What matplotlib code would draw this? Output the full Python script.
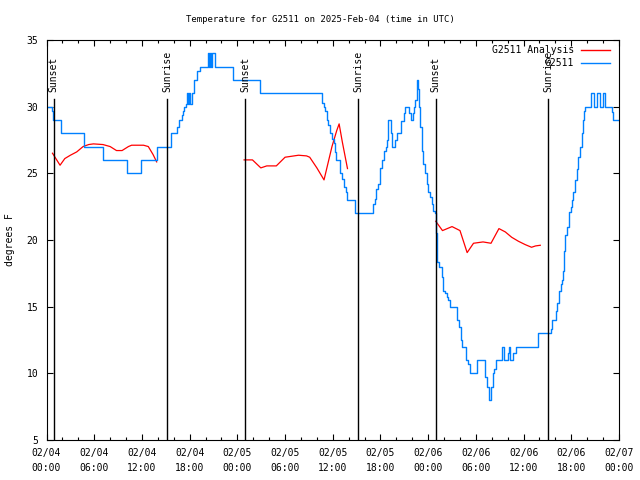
import numpy as np
import pandas as pd
import matplotlib
matplotlib.use("Agg")
import matplotlib.pyplot as plt
import matplotlib.dates as mdates
import matplotlib.transforms as mtransforms

plt.rcParams['font.family'] = ['DejaVu Sans Mono']
plt.rcParams['font.size'] = 7

START = pd.Timestamp("2025-02-04 00:00")
END = pd.Timestamp("2025-02-07 00:00")

# Observations (hours after start, deg F) - stepped
obs_hours = [
    0.0, 0.73, 0.86, 1.85, 4.65, 7.15, 10.1, 11.9, 13.87, 15.66,
    16.4, 16.7, 17.03, 17.2, 17.33, 17.5, 17.65, 17.8, 17.95, 18.1,
    18.25, 18.6, 18.9, 19.35, 20.25, 20.4, 20.5, 20.65, 20.85, 21.2,
    23.5, 26.8, 34.7, 34.85, 35.05, 35.25, 35.45, 35.65, 35.9, 36.1,
    36.25, 36.4, 36.9, 37.1, 37.4, 37.7, 37.85, 38.8, 41.1, 41.3,
    41.5, 41.7, 41.9, 42.0, 42.2, 42.45, 42.65, 42.8, 43.0, 43.3,
    43.45, 43.8, 44.05, 44.55, 44.9, 45.1, 45.6, 45.85, 46.05, 46.2,
    46.4, 46.55, 46.7, 46.85, 47.0, 47.2, 47.4, 47.6, 47.8, 48.0,
    48.25, 48.45, 48.65, 48.85, 48.95, 49.0, 49.05, 49.15, 49.3, 49.7,
    49.9, 50.1, 50.4, 50.55, 50.75, 51.6, 51.9, 52.1, 52.2, 52.8,
    53.0, 53.2, 54.15, 55.15, 55.4, 55.6, 55.9, 56.1, 56.3, 56.5,
    57.3, 57.55, 58.0, 58.2, 58.35, 58.7, 59.0, 61.85, 63.45, 63.6,
    64.1, 64.25, 64.5, 64.7, 64.8, 65.0, 65.1, 65.25, 65.4, 65.65,
    65.75, 65.95, 66.05, 66.25, 66.5, 66.7, 66.9, 67.1, 67.3, 67.45,
    67.6, 67.75, 68.45, 68.85, 69.2, 69.6, 70.0, 70.3, 71.1, 71.3,
    72.0,
]
obs_temp = [
    30.0, 29.7, 29.0, 28.0, 27.0, 26.0, 25.0, 26.0, 27.0, 28.0,
    28.5, 29.0, 29.4, 29.7, 30.0, 30.2, 31.0, 30.2, 31.0, 30.2,
    31.0, 32.0, 32.7, 33.0, 34.0, 33.0, 34.0, 33.0, 34.0, 33.0,
    32.0, 31.0, 30.3, 30.0, 29.7, 29.0, 28.6, 28.0, 27.6, 27.3,
    26.6, 26.0, 25.0, 24.6, 24.0, 23.6, 23.0, 22.0, 22.7, 23.1,
    23.8, 24.2, 24.7, 25.4, 26.0, 26.7, 27.0, 27.5, 29.0, 28.0,
    27.0, 27.5, 28.0, 28.9, 29.5, 30.0, 29.5, 29.0, 29.5, 30.0,
    30.5, 32.0, 31.3, 30.0, 28.5, 26.7, 25.7, 25.0, 24.2, 23.6,
    23.2, 22.7, 22.2, 22.0, 21.5, 20.5, 19.0, 18.35, 18.0, 17.2,
    16.2, 16.0, 15.7, 15.5, 15.0, 14.0, 13.5, 12.5, 12.0, 11.0,
    10.7, 10.0, 11.0, 9.7, 9.0, 8.0, 9.0, 10.0, 10.3, 11.0,
    12.0, 11.0, 11.5, 12.0, 11.0, 11.5, 12.0, 13.0, 13.3, 14.0,
    14.7, 15.3, 16.2, 16.7, 17.0, 17.7, 19.2, 20.35, 21.0, 21.6,
    22.1, 22.5, 23.0, 23.6, 24.5, 25.35, 26.2, 27.0, 28.0, 29.0,
    29.7, 30.0, 31.0, 30.0, 31.0, 30.0, 31.0, 30.0, 29.6, 29.0,
    29.0,
]

# Analysis, three overnight segments
ana1_hours = [0.75, 1.7, 2.3, 3.0, 3.8, 4.6, 5.3, 5.9, 7.1, 8.0,
              8.8, 9.5, 10.3, 10.7, 12.2, 12.8, 13.4, 13.85]
ana1_temp = [26.5, 25.6, 26.1, 26.35, 26.6, 27.0, 27.15, 27.2, 27.15, 27.0,
             26.7, 26.7, 27.0, 27.1, 27.1, 27.0, 26.4, 25.85]
ana2_hours = [24.85, 25.9, 26.95, 27.7, 28.9, 30.0, 31.7, 32.7, 33.1, 34.0,
              34.9, 35.9, 36.5, 36.8, 37.2, 37.85]
ana2_temp = [26.0, 26.0, 25.4, 25.55, 25.55, 26.2, 26.35, 26.3, 26.2, 25.4,
             24.5, 27.0, 28.2, 28.7, 27.35, 25.35]
ana3_hours = [48.95, 49.8, 50.4, 51.0, 52.0, 52.9, 53.7, 54.9, 55.9, 56.9,
              57.7, 58.5, 59.35, 60.2, 61.0, 61.5, 62.1]
ana3_temp = [21.4, 20.7, 20.85, 21.0, 20.7, 19.05, 19.75, 19.85, 19.75, 20.85,
             20.6, 20.2, 19.9, 19.65, 19.45, 19.55, 19.6]

# Sunrise / sunset markers
sun_hours = [0.92, 15.18, 24.98, 39.2, 48.95, 63.12]
sun_labels = ["Sunset", "Sunrise", "Sunset", "Sunrise", "Sunset", "Sunrise"]


def to_time(h):
    return START + pd.to_timedelta(np.array(h), unit="h")


RED = "#ff0000"
BLUE = "#0080ff"

fig = plt.figure(figsize=(6.4, 4.8), dpi=100)
ax = fig.add_axes([0.0727, 0.0833, 0.8945, 0.8337])

for hrs, tmp in [(ana1_hours, ana1_temp), (ana2_hours, ana2_temp), (ana3_hours, ana3_temp)]:
    ax.plot(to_time(hrs), tmp, color=RED, lw=0.9)
ax.plot(to_time(obs_hours), obs_temp, color=BLUE, lw=1.0, drawstyle="steps-post")

trans = mtransforms.blended_transform_factory(ax.transData, ax.transAxes)
for h, lab in zip(sun_hours, sun_labels):
    t = to_time([h])[0]
    ax.plot([t, t], [0, 0.8525], color="black", lw=1.0, transform=trans)
    ax.text(t, 0.87, lab, rotation=90, ha="center", va="bottom", transform=trans)

ax.set_xlim(START, END)
ax.set_ylim(5, 35)
ax.set_yticks(np.arange(5, 36, 5))
ax.xaxis.set_major_locator(mdates.HourLocator(byhour=range(0, 24, 6)))
ax.xaxis.set_minor_locator(mdates.HourLocator(interval=2))
ax.xaxis.set_major_formatter(mdates.DateFormatter("%m/%d\n%H:%M"))
ax.tick_params(which="both", direction="in", top=True, right=True, width=0.8)
ax.tick_params(which="major", length=4.5, pad=6)
ax.tick_params(which="minor", length=2.2)
for lab in ax.get_xticklabels():
    lab.set_linespacing(1.6)
for s in ax.spines.values():
    s.set_linewidth(0.8)

ax.set_ylabel("degrees F", labelpad=8)
# gnuplot centres the title on the whole canvas
fig.text(0.5, 0.96, "Temperature for G2511 on 2025-Feb-04 (time in UTC)",
         fontsize=6.5, ha="center", va="center")

# legend, gnuplot style (text right-aligned, sample to the right)
for i, (name, col) in enumerate([("G2511 Analysis", RED), ("G2511", BLUE)]):
    y = 0.9745 - i * 0.0325
    ax.text(0.921, y, name, ha="right", va="center", transform=ax.transAxes)
    ax.plot([0.934, 0.984], [y, y], color=col, lw=1.0, transform=ax.transAxes)

fig.savefig("out.png", dpi=100)
